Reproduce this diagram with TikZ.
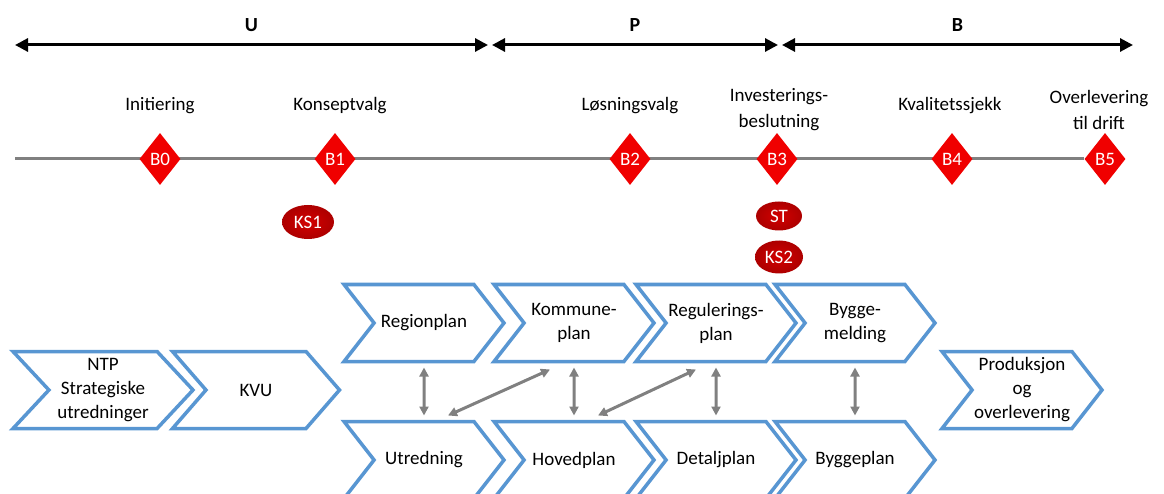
\documentclass[tikz,border=0pt]{standalone}
\usepackage{fontspec}
\setmainfont{Carlito}
\usetikzlibrary{shapes.geometric,shapes.symbols,arrows.meta,backgrounds}
\definecolor{chevblue}{RGB}{88,150,210}
\definecolor{gatered}{RGB}{240,0,0}
\definecolor{ksred}{RGB}{192,0,0}
\definecolor{linegrey}{RGB}{128,128,128}
\tikzset{
  chev/.style={shape=signal, signal from=west, signal to=east, signal pointer angle=104,
    draw=chevblue, line width=3.5pt, fill=white, minimum width=160pt, minimum height=77pt,
    inner sep=0pt, outer sep=0pt, align=center},
  gate/.style={diamond, fill=gatered, text=white, minimum width=41pt, minimum height=52pt, inner sep=0pt},
  ks/.style={ellipse, inner color=ksred!70!red, outer color=ksred!90!black, text=white, inner sep=0pt},
  phase/.style={{Triangle[length=13pt,width=13pt]}-{Triangle[length=13pt,width=13pt]}, line width=3pt},
  link/.style={{Triangle[length=9pt,width=9pt]}-{Triangle[length=9pt,width=9pt]}, line width=3pt, draw=linegrey},
  gatelabel/.style={align=center, font=\fontsize{19}{26}\selectfont},
}
\begin{document}
\begin{tikzpicture}[x=1pt, y=-1pt, font=\fontsize{19}{24}\selectfont]
  \clip (0,0) rectangle (1164,494);
  % phases
  \coordinate (u0) at (15,45);
  \coordinate (u1) at (488,45);
  \coordinate (p0) at (492,45);
  \coordinate (p1) at (778,45);
  \coordinate (bb0) at (782,45);
  \coordinate (bb1) at (1133,45);
  \draw[phase] (u0) -- (u1) node[midway, above=9pt, font=\fontsize{20}{24}\bfseries] (U) {U};
  \draw[phase] (p0) -- (p1) node[midway, above=9pt, font=\fontsize{20}{24}\bfseries] (P) {P};
  \draw[phase] (bb0) -- (bb1) node[midway, above=9pt, font=\fontsize{20}{24}\bfseries] (B) {B};
  % gates
  \coordinate (tl) at (15,159);
  \node[gate] (b0) at (160,159) {B0};
  \node[gate] (b1) at (335,159) {B1};
  \node[gate] (b2) at (630,159) {B2};
  \node[gate] (b3) at (777,159) {B3};
  \node[gate] (b4) at (952,159) {B4};
  \node[gate] (b5) at (1105,159) {B5};
  \node[gatelabel] (init) at (160,106) {Initiering};
  \node[gatelabel] (konsept) at (340,106) {Konseptvalg};
  \node[gatelabel] (losning) at (630,106) {Løsningsvalg};
  \node[gatelabel] (invest) at (779,110) {Investerings-\\beslutning};
  \node[gatelabel] (kvalitet) at (950,106) {Kvalitetssjekk};
  \node[gatelabel] (overlev) at (1099,110) {Overlevering\\til drift};
  \node[ks, minimum width=52pt, minimum height=34pt] (ks1) at (308,222) {KS1};
  \node[ks, minimum width=46pt, minimum height=29pt] (st) at (779,216) {ST};
  \node[ks, minimum width=48pt, minimum height=33pt] (ks2) at (779,257) {KS2};
  \begin{pgfonlayer}{background}
    \draw[linegrey, line width=3pt] (tl) -- (b5);
  \end{pgfonlayer}
  % chevrons
  \node[chev, minimum width=180pt, signal pointer angle=94] (ntp) at (103,390) {NTP\\Strategiske\\utredninger};
  \node[chev, minimum width=167pt, signal pointer angle=98] (kvu) at (256,390) {KVU};
  \node[chev] (region) at (424,323) {Regionplan};
  \node[chev] (kommune) at (574,323) {Kommune-\\plan};
  \node[chev] (regulering) at (716,323) {Regulerings-\\plan};
  \node[chev] (bygge) at (855,323) {Bygge-\\melding};
  \node[chev] (utred) at (424,460) {Utredning};
  \node[chev] (hoved) at (574,460) {Hovedplan};
  \node[chev] (detalj) at (716,460) {Detaljplan};
  \node[chev] (byggeplan) at (855,460) {Byggeplan};
  \node[chev] (prod) at (1022,390) {Produksjon\\og\\overlevering};
  % links
  \draw[link, shorten <=6pt, shorten >=6pt] (region) -- (utred);
  \draw[link, shorten <=6pt, shorten >=6pt] (kommune) -- (hoved);
  \draw[link, shorten <=6pt, shorten >=6pt] (regulering) -- (detalj);
  \draw[link, shorten <=6pt, shorten >=6pt] (bygge) -- (byggeplan);
  \draw[link] ([xshift=24pt,yshift=6pt]utred.north) -- ([xshift=-24pt,yshift=-8pt]kommune.south);
  \draw[link] ([xshift=24pt,yshift=6pt]hoved.north) -- ([xshift=-20pt,yshift=-8pt]regulering.south);
\end{tikzpicture}
\end{document}
